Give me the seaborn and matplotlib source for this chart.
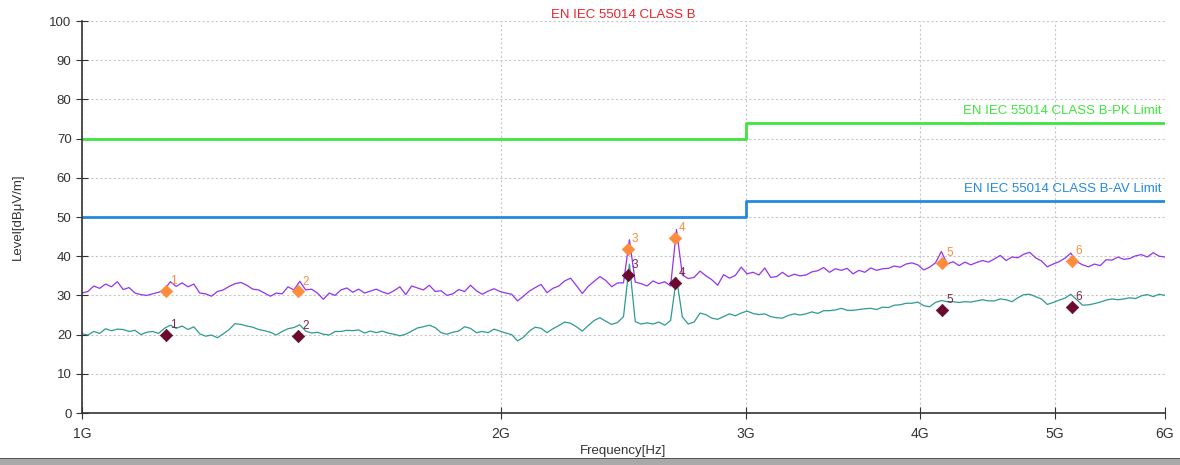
import numpy as np
import pandas as pd
import matplotlib
matplotlib.use("Agg")
import matplotlib.pyplot as plt
import seaborn as sns

# Scan traces (dBuV/m), one value per sweep point
peak_trace = [
    30.6, 31.0, 32.4, 31.8, 32.9, 32.2, 33.5, 31.5, 32.0, 30.6,
    30.2, 30.0, 30.4, 30.8, 31.4, 33.5, 32.3, 33.2, 32.2, 32.9,
    30.6, 30.4, 29.8, 31.0, 31.4, 32.3, 33.0, 33.3, 32.6, 31.6,
    31.4, 30.6, 29.8, 30.6, 30.4, 32.2, 31.4, 33.6, 31.4, 31.6,
    30.6, 29.0, 30.6, 30.0, 31.4, 31.9, 30.8, 31.6, 30.6, 31.1,
    31.6, 30.9, 30.4, 31.2, 32.2, 30.2, 32.4, 31.9, 31.4, 32.6,
    31.0, 31.2, 30.0, 30.4, 31.5, 31.0, 32.6, 31.2, 30.3, 31.1,
    31.7, 31.0, 30.6, 30.3, 28.6, 29.8, 31.1, 32.0, 32.8, 30.7,
    31.8, 32.4, 33.7, 34.4, 32.5, 30.5, 32.3, 33.6, 34.8, 33.8,
    32.2, 33.2, 33.2, 44.2, 33.4, 33.0, 32.4, 33.7, 33.0, 33.5,
    32.4, 46.8, 35.2, 34.3, 34.6, 36.2, 35.0, 34.0, 32.6, 35.3,
    34.4, 35.1, 37.2, 35.5, 35.9, 35.2, 37.0, 34.6, 34.8, 35.9,
    34.8, 35.4, 35.0, 35.2, 36.0, 36.3, 37.1, 35.9, 36.8, 36.4,
    36.9, 35.5, 36.4, 35.9, 37.0, 36.4, 36.8, 36.9, 37.5, 37.2,
    38.0, 38.3, 37.8, 36.5, 37.2, 38.3, 41.2, 38.0, 38.6, 37.6,
    38.5, 37.8, 38.4, 38.9, 38.5, 39.3, 40.2, 38.9, 39.8, 39.6,
    40.5, 41.0, 39.6, 38.8, 37.3, 38.0, 38.6, 39.5, 40.8, 38.6,
    37.8, 37.3, 38.0, 37.6, 39.1, 39.0, 39.8, 39.2, 39.4, 40.1,
    40.4, 39.8, 40.9, 40.0, 39.8,
]
avg_trace = [
    20.2, 19.9, 20.8, 20.3, 21.5, 21.0, 21.4, 21.3, 20.8, 21.1,
    20.0, 20.6, 20.8, 20.3, 21.6, 22.4, 21.6, 22.2, 21.3, 22.0,
    20.2, 19.6, 19.9, 19.2, 20.2, 21.3, 22.8, 22.6, 22.2, 21.9,
    21.3, 21.0, 20.6, 19.9, 20.8, 21.5, 21.8, 22.5, 20.9, 20.4,
    20.6, 20.1, 19.9, 20.8, 20.8, 21.1, 21.0, 21.2, 20.4, 20.9,
    20.5, 20.9, 20.4, 20.1, 19.7, 20.1, 20.9, 21.7, 22.0, 22.4,
    21.8, 20.5, 20.1, 20.6, 20.9, 22.0, 21.6, 20.5, 20.8, 20.5,
    21.4, 20.9, 20.4, 20.0, 18.4, 19.3, 20.9, 21.9, 21.6, 20.5,
    21.5, 22.3, 23.2, 22.9, 22.0, 20.9, 22.3, 23.6, 24.3, 23.4,
    22.6, 23.1, 24.6, 38.0, 23.3, 22.7, 23.0, 22.7, 23.2, 22.4,
    23.6, 34.5, 24.5, 22.7, 23.2, 25.5, 25.1, 24.2, 23.9, 24.6,
    25.3, 24.8, 25.5, 26.0, 25.4, 25.1, 25.3, 24.6, 24.3, 24.2,
    24.9, 25.3, 25.0, 25.3, 25.8, 25.4, 26.1, 26.1, 26.3, 26.7,
    26.2, 26.2, 26.4, 26.6, 26.7, 26.4, 27.0, 26.9, 27.5, 27.6,
    28.0, 28.0, 28.3, 27.4, 27.1, 28.2, 28.7, 28.4, 28.4, 28.2,
    28.4, 28.3, 28.6, 28.9, 28.6, 28.6, 29.1, 28.9, 28.4, 29.4,
    30.2, 30.3, 29.7, 29.1, 27.7, 28.2, 28.8, 29.3, 30.3, 28.9,
    27.5, 27.6, 27.9, 28.3, 28.8, 29.1, 28.9, 29.1, 29.4, 29.2,
    29.9, 30.2, 29.7, 30.3, 30.0,
]
# log sweep points of the analyzer, 1 GHz .. 6 GHz
sweep_freq = np.geomspace(1e9, 6e9, len(peak_trace))

# limit lines (step at 3 GHz)
limit_freq = [1e9, 3e9, 3e9, 6e9]
pk_limit = [70, 70, 74, 74]
av_limit = [50, 50, 54, 54]

# final measurement markers
marker_no = ["1", "2", "3", "4", "5", "6"]
marker_freq = [1.149e9, 1.429e9, 2.467e9, 2.667e9, 4.15e9, 5.14e9]
marker_pk = [31.2, 31.0, 41.9, 44.7, 38.3, 38.8]
marker_av = [19.8, 19.6, 35.2, 33.2, 26.4, 27.0]

x_ticks = [1e9, 2e9, 3e9, 4e9, 5e9, 6e9]
x_labels = ["1G", "2G", "3G", "4G", "5G", "6G"]

PURPLE = "#9433F0"
TEAL = "#2E9A92"
GREEN = "#3CE63C"
BLUE = "#2489E0"
ORANGE = "#FF8C3A"
MAROON = "#6A0A2E"

sns.set_style("white")
plt.rcParams["font.family"] = ["Liberation Sans", "DejaVu Sans"]

traces = pd.DataFrame({"freq": sweep_freq, "pk": peak_trace, "av": avg_trace})
limits = pd.DataFrame({"freq": limit_freq, "pk": pk_limit, "av": av_limit})
marks = pd.DataFrame({"freq": marker_freq, "pk": marker_pk, "av": marker_av, "no": marker_no})

fig = plt.figure(figsize=(11.8, 4.65), dpi=100)
ax = fig.add_axes([0.0695, 0.1118, 0.9178, 0.843])

# estimator=None so the two points at 3 GHz are kept (vertical step)
sns.lineplot(data=limits, x="freq", y="pk", color=GREEN, lw=2,
             estimator=None, sort=False, ax=ax)
sns.lineplot(data=limits, x="freq", y="av", color=BLUE, lw=2,
             estimator=None, sort=False, ax=ax)
sns.lineplot(data=traces, x="freq", y="pk", color=PURPLE, lw=0.9,
             estimator=None, ax=ax)
sns.lineplot(data=traces, x="freq", y="av", color=TEAL, lw=0.9,
             estimator=None, ax=ax)
sns.scatterplot(data=marks, x="freq", y="pk", color=ORANGE, marker="D", s=40,
                edgecolor=ORANGE, zorder=5, ax=ax)
sns.scatterplot(data=marks, x="freq", y="av", color=MAROON, marker="D", s=40,
                edgecolor=MAROON, zorder=5, ax=ax)

for f, p, a, n in zip(marker_freq, marker_pk, marker_av, marker_no):
    ax.annotate(n, (f, p), xytext=(3, 5), textcoords="offset points",
                color=ORANGE, fontsize=8.5)
    ax.annotate(n, (f, a), xytext=(3, 5), textcoords="offset points",
                color="#7a2a4a", fontsize=8.5)

ax.text(5.97e9, 75.6, "EN IEC 55014 CLASS B-PK Limit", color=GREEN,
        ha="right", va="bottom", fontsize=9.5)
ax.text(5.97e9, 55.6, "EN IEC 55014 CLASS B-AV Limit", color=BLUE,
        ha="right", va="bottom", fontsize=9.5)

ax.set_xscale("log")
ax.set_xlim(1e9, 6e9)
ax.set_ylim(0, 100)
ax.set_xticks(x_ticks)
ax.set_xticklabels(x_labels)
ax.minorticks_off()
ax.set_yticks(range(0, 101, 10))
ax.grid(True, color="#c8c8c8", ls=(0, (2, 2)), lw=0.8)
for s in ["top", "right"]:
    ax.spines[s].set_visible(False)
for s in ["left", "bottom"]:
    ax.spines[s].set_color("#333333")
    ax.spines[s].set_linewidth(1.2)
ax.tick_params(axis="y", direction="inout", length=8, labelsize=9.5,
               colors="#333333", left=True)
ax.tick_params(axis="x", direction="inout", length=8, labelsize=10,
               colors="#333333", bottom=True, pad=6)
for lab in ax.get_xticklabels():
    lab.set_fontfamily(["Liberation Sans Narrow", "Liberation Sans", "DejaVu Sans"])

ax.set_xlabel("Frequency[Hz]", fontsize=9.5, color="#333333", labelpad=3)
ax.set_ylabel("Level[dBμV/m]", fontsize=9.5, color="#333333", labelpad=18)
ax.set_title("EN IEC 55014 CLASS B", color="#E8232A", fontsize=9.5, pad=2)

# grey window frame strip at the bottom edge
fig.patches.append(plt.Rectangle((0, 0), 1, 0.0130, transform=fig.transFigure,
                                 facecolor="#a9a9a9", edgecolor="none", zorder=10))
fig.patches.append(plt.Rectangle((0, 0.0130), 1, 0.0030, transform=fig.transFigure,
                                 facecolor="#555555", edgecolor="none", zorder=10))

fig.savefig("out.png", dpi=100)
